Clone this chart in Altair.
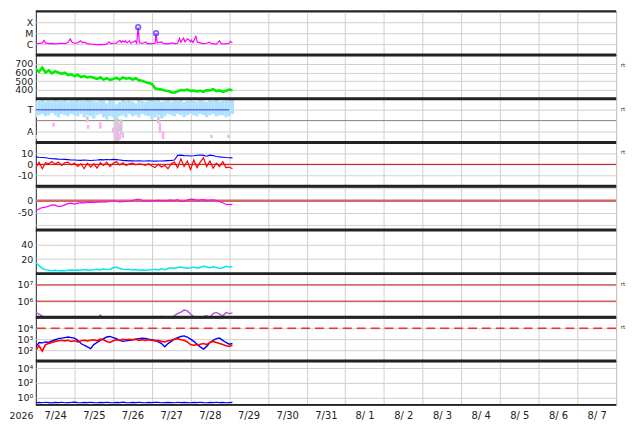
import altair as alt
import pandas as pd

FONT = "DejaVu Sans"
TXT = "#222222"
GRID = "#d0d0d0"
BORDER = "#222222"
W = 584
H = 44

# ---------------- data ----------------
HOURS = list(range(0, 124, 2))  # hours since 2026-07-24 00:00 (2 h steps)

DAY_LABELS = ["7/24", "7/25", "7/26", "7/27", "7/28", "7/29", "7/30", "7/31",
              "8/ 1", "8/ 2", "8/ 3", "8/ 4", "8/ 5", "8/ 6", "8/ 7"]
YEAR_LABEL = "2026"
SIDE_LABEL = "rt"

# Panel 1: X-ray flux (hour, W/m2)
XRAY_POINTS = [
    (0, 1.1e-6), (2, 1.15e-6), (4, 1.3e-6), (5, 2.2e-6), (6, 1.3e-6), (8, 1.1e-6),
    (10, 1.15e-6), (12, 1.05e-6), (14, 1.1e-6), (16, 1.2e-6), (18, 1.1e-6), (20, 1.4e-6),
    (21.4, 3.0e-6), (22.5, 1.5e-6), (24, 1.2e-6), (26, 1.3e-6), (27.9, 2.0e-6), (29, 1.3e-6),
    (30, 1.5e-6), (32, 1.1e-6), (34, 1.0e-6), (36, 0.95e-6), (38, 0.9e-6), (40, 0.95e-6),
    (42, 0.9e-6), (44, 1.0e-6), (45.4, 1.6e-6), (46.5, 1.1e-6), (48, 1.2e-6), (50, 1.25e-6),
    (52.2, 2.2e-6), (53, 1.4e-6), (54, 2.0e-6), (55, 1.5e-6), (55.5, 2.0e-6), (56.5, 1.3e-6),
    (58, 2.0e-6), (59, 1.2e-6), (61.7, 2.0e-6), (62.6, 1.2e-6), (63.5, 3.5e-5), (64.3, 1.3e-6),
    (66, 1.15e-6), (68.2, 1.6e-6), (69, 1.1e-6), (72, 1.1e-6), (74, 1.2e-6), (74.6, 1.0e-5),
    (75.3, 1.3e-6), (78.1, 1.6e-6), (79, 1.15e-6), (82, 1.05e-6), (84.9, 1.3e-6), (86, 1.1e-6),
    (88, 1.2e-6), (89.2, 3.3e-6), (90, 1.5e-6), (91.7, 3.6e-6), (92.5, 1.6e-6), (94.1, 3.0e-6),
    (95.4, 2.2e-6), (96, 1.6e-6), (96.6, 2.3e-6), (97.5, 1.4e-6), (99.3, 5.0e-6), (100.2, 1.5e-6),
    (102, 1.3e-6), (104, 1.1e-6), (106, 1.2e-6), (107.7, 1.5e-6), (109, 1.1e-6), (112, 1.0e-6),
    (113.9, 2.0e-6), (115, 1.1e-6), (118, 1.05e-6), (120, 1.2e-6), (120.7, 1.8e-6), (122, 1.3e-6),
]
FLARE_H = [63.5, 74.6]
FLARE_V = [3.5e-5, 1.0e-5]
XRAY_TICKS = [1e-6, 1e-5, 1e-4]
XRAY_LABELS = ["C", "M", "X"]

# Panel 2: solar wind speed (km/s)
SPEED = [640, 610, 655, 600, 625, 590,
         615, 600, 585, 598, 570, 580,
         560, 575, 548, 560, 545, 552,
         540, 528, 545, 520, 535, 515,
         525, 540, 520, 545, 530, 538,
         520, 535, 510, 505, 490, 480,
         470, 420, 410, 405, 395, 390,
         375, 370, 385, 400, 395, 405,
         390, 395, 385, 392, 380, 398,
         395, 410, 388, 395, 380, 392,
         405, 398]
SPEED_TICKS = [400, 500, 600, 700]

# Panel 3: IMF sector (T = +1, A = -1)
TB_HI = [1.85, 1.80, 1.90, 1.75, 1.85, 1.80, 1.90, 1.85, 1.80, 1.88, 1.75, 1.85,
         1.80, 1.90, 1.85, 1.80, 1.90, 1.85, 1.80, 1.75, 1.90, 1.85, 1.60, 1.90,
         1.85, 1.50, 1.70, 1.90, 1.80, 1.85, 1.75, 1.60, 1.90, 1.80, 1.70, 1.85,
         1.90, 1.80, 1.85, 1.70, 1.80, 1.90, 1.75, 1.85, 1.80, 1.90, 1.70, 1.80,
         1.85, 1.80, 1.75, 1.90, 1.80, 1.70, 1.85, 1.80, 1.90, 1.75, 1.80, 1.85,
         1.90, 1.95]
TB_LO = [0.30, 0.50, 0.60, 0.40, 0.50, 0.70, 0.50, 0.30, 0.60, 0.50, 0.40, 0.60,
         0.50, 0.40, 0.60, 0.30, 0.50, 0.40, 0.20, 0.50, 0.60, 0.30, 0.10, 0.40,
         0.30, 0.20, 0.40, 0.50, 0.30, 0.60, 0.40, 0.50, 0.30, 0.60, 0.50, 0.40,
         0.10, 0.30, 0.50, 0.20, 0.40, 0.60, 0.50, 0.40, 0.60, 0.50, 0.30, 0.50,
         0.60, 0.50, 0.40, 0.60, 0.50, 0.30, 0.50, 0.60, 0.40, 0.50, 0.50, 0.30,
         0.40, 0.60]
PINK_H = [0, 11, 32.5, 40, 48, 50, 51.7, 52, 54, 77, 79]
PINK_LO = [-1.65, -0.55, -0.75, -0.75, -1.1, -1.8, -0.95, -1.75, -1.6, -1.1, -1.7]
PINK_HI = [-1.3, -0.2, -0.4, -0.15, -0.65, -1.1, -0.25, -1.2, -1.1, -0.2, -1.0]
GRAY_H = [32, 49.5, 51, 53, 76, 109, 119.5]
GRAY_LO = [-0.15, -2.0, -1.9, -1.3, -0.25, -1.6, -1.6]
GRAY_HI = [0.4, 0.4, 0.2, 0.1, 0.4, -1.3, -1.3]
T_LINE_H = [0, 120]
T_LINE_V = [1, 1]
SECTOR_TICKS = [1, -1]
SECTOR_LABELS = ["T", "A"]

# Panel 4: IMF Bt (blue) / Bz (red), nT
BT = [6.8, 6.5, 6.3, 6.0, 5.5, 5.2, 5.0, 4.8, 4.7, 4.5, 4.3, 4.0,
      3.9, 3.8, 3.6, 3.9, 3.7, 3.5, 3.8, 4.0, 4.3, 4.1, 4.4, 4.2,
      4.5, 4.3, 4.0, 3.6, 3.4, 3.2, 3.2, 3.0, 3.3, 3.1, 3.0, 3.2,
      3.0, 2.9, 3.1, 3.0, 3.2, 3.4, 3.6, 4.0, 8.2, 8.4, 8.0, 7.8,
      7.6, 7.8, 8.3, 8.5, 8.2, 7.4, 8.4, 8.0, 7.2, 6.8, 6.5, 6.2,
      6.0, 5.9]
BZ = [-3, 2, -4, 1.5, 0.5, 2.5, 0, 2, -1, 1.5, 2, -0.5,
      1, -2, 0.5, -4, 1, -2.5, 0.5, -3.5, 1.5, -1, 2, -2,
      1, 2.5, -0.5, 1.5, -1, 0.5, 1, -0.5, 0.5, 0, -1, 0.5,
      -1.5, -3, 0, -2.5, -1, -4, 0.5, 2, -3, 5, -2, 3,
      -5, 4, -3, 2, 6, -2, 3, -3.5, 1, -2, 2.5, -3,
      -2.5, -4]
IMF_TICKS = [10, 0, -10]
IMF_LABELS = ["10", "0", "-10"]

# Panel 5: Dst (nT)
DST = [-40, -34, -28, -26, -22, -17, -18, -24, -22, -17, -12, -10,
       -14, -10, -8, -9, -7, -6, -7, -5, -6, -4, -5, -3,
       0, -3, -5, -4, -3, -2, 1, 5, 7, 2, -2, -1,
       0, 1, 2, 1, 0, 2, 3, 1, 5, -3, -1, 3,
       7, 6, 3, 4, 5, 2, 3, 4, 1, -4, -8, -15,
       -16, -15]
DST_TICKS = [50, 0, -50, -100]
DST_LABELS = ["", "0", "-50", ""]

# Panel 6: cyan series
CYAN = [15, 11, 7, 5.5, 4.5, 4, 4.5, 4, 4.2, 3.8, 4.5, 5,
        4.5, 5, 4.5, 5.5, 5, 4.5, 5.5, 6, 5, 6.5, 5.5, 6,
        8, 9, 7, 6, 5.5, 6, 5, 5.5, 4.5, 5, 4.5, 5,
        5.5, 6, 5, 6.5, 5.5, 7, 8, 7, 8.5, 9, 8, 7.5,
        8, 9, 7.5, 8.5, 10, 9, 8, 9.5, 8.5, 7, 8, 10,
        9, 9.5]
CYAN_TICKS = [20, 40]

# Panel 7: electron flux (purple)
PURPLE = [2.0e5, 1.6e5, 1.2e5, 7e4, 5e4, 4e4, 4.5e4, 5e4, 4e4, 3.5e4,
          4e4, 5e4, 4.5e4, 4e4, 5e4, 5.5e4, 4.5e4, 5e4, 6e4, 8e4,
          1.4e5, 8e4, 5e4, 4.5e4, 4e4, 5e4, 4.5e4, 4e4, 3.5e4, 4e4,
          4.5e4, 5e4, 4e4, 4.5e4, 5e4, 5.5e4, 6e4, 5.5e4, 9e4, 1.15e5,
          9e4, 6e4, 9e4, 1.3e5, 1.7e5, 2.1e5, 2.8e5, 2.5e5, 1.6e5, 1.1e5,
          8e4, 9e4, 1.1e5, 1.25e5, 1.0e5, 1.7e5, 2.0e5, 1.6e5, 1.2e5, 2.0e5,
          1.7e5, 1.9e5]
E_LINES = [1e6, 1e7]
E_TICKS = [1e6, 1e7]
E_LABELS = ["10⁶", "10⁷"]

# Panel 8: blue / red flux
BLUE8 = [200, 500, 460, 560, 500, 710, 890, 1120, 1260, 1410,
         1580, 1410, 1260, 790, 400, 280, 200, 135, 320, 500,
         790, 1120, 1580, 1780, 1410, 1120, 790, 630, 710, 790,
         890, 1000, 1120, 1260, 1200, 1000, 890, 790, 560, 400,
         200, 400, 630, 1000, 1410, 1780, 2000, 1580, 1000, 630,
         350, 200, 125, 220, 500, 790, 1120, 1260, 790, 500,
         350, 400]
RED8 = [100, 250, 80, 320, 400, 500, 630, 710, 790, 710,
        790, 630, 710, 560, 710, 790, 710, 790, 890, 710,
        1000, 890, 630, 500, 710, 890, 790, 1000, 890, 1000,
        890, 1000, 790, 890, 790, 890, 790, 710, 790, 630,
        560, 710, 790, 1000, 1120, 890, 790, 560, 320, 280,
        320, 350, 400, 320, 500, 630, 500, 400, 320, 250,
        220, 280]
P8_LINE = [1e4]
P8_TICKS = [1e2, 1e3, 1e4]
P8_LABELS = ["10²", "10³", "10⁴"]

# Panel 9: blue flux
BLUE9 = [0.2, 0.21, 0.19, 0.22, 0.2, 0.18, 0.21, 0.2, 0.22, 0.19, 0.2, 0.21,
         0.23, 0.2, 0.19, 0.21, 0.2, 0.22, 0.2, 0.19, 0.21, 0.2, 0.22, 0.2,
         0.19, 0.21, 0.2, 0.23, 0.2, 0.19, 0.21, 0.2, 0.22, 0.2, 0.19, 0.21,
         0.2, 0.22, 0.21, 0.19, 0.2, 0.21, 0.2, 0.19, 0.22, 0.2, 0.21, 0.2,
         0.19, 0.21, 0.2, 0.22, 0.2, 0.19, 0.21, 0.2, 0.22, 0.2, 0.21, 0.19,
         0.2, 0.21]
P9_TICKS = [1, 1e2, 1e4]
P9_LABELS = ["10⁰", "10²", "10⁴"]


# ---------------- helpers ----------------
def series(values, hours=HOURS):
    n = min(len(values), len(hours))
    return pd.DataFrame({"d": [h / 24 for h in hours[:n]], "v": values[:n]})


def ranges(hours, lo, hi):
    n = min(len(hours), len(lo), len(hi))
    return pd.DataFrame({"d": [h / 24 for h in hours[:n]], "v": lo[:n], "v2": hi[:n]})


def lab_expr(vals, labs):
    parts = []
    for v, l in zip(vals, labs):
        tol = abs(v) * 1e-3 if v != 0 else 1e-9
        parts.append(f"abs(datum.value - ({v!r})) < {tol!r} ? '{l}'")
    return " : ".join(parts) + " : ''"


XEXPR = "[" + ",".join(f"'{s}'" for s in DAY_LABELS) + "][round(datum.value) - 1]"


def X(labels=False):
    return alt.X(
        "d:Q",
        scale=alt.Scale(domain=[0, 15], nice=False, zero=False),
        axis=alt.Axis(values=list(range(1, 16)), grid=True, gridColor=GRID, gridWidth=1,
                      labels=labels, labelExpr=XEXPR, labelOffset=-19.5, labelFlush=False,
                      labelOverlap=False, labelFontSize=10, labelFont=FONT, labelColor=TXT,
                      labelPadding=6, ticks=False, tickSize=0, domain=False, title=None),
    )


def Y(domain, vals, labs, log=False):
    if log:
        sc = alt.Scale(type="log", domain=domain, nice=False)
    else:
        sc = alt.Scale(domain=domain, nice=False, zero=False)
    ax = alt.Axis(values=vals, labelExpr=lab_expr(vals, labs), grid=True, gridColor=GRID,
                  gridWidth=1, labelOverlap=False, labelFontSize=9.5, labelFont=FONT,
                  labelColor=TXT, labelPadding=3, ticks=False, tickSize=0, domain=False,
                  title=None)
    return alt.Y("v:Q", scale=sc, axis=ax)


ONE = pd.DataFrame({"k": [0]})


def panel(layers, sep_width=3.0, rt=False, extra=()):
    parts = list(layers)
    parts.append(alt.Chart(ONE).mark_rule(color=BORDER, strokeWidth=sep_width)
                 .encode(x=alt.value(0), x2=alt.value(W), y=alt.value(0)))
    if rt:
        parts.append(alt.Chart(ONE).mark_text(text=SIDE_LABEL, fontSize=5.5, font=FONT,
                                              color="#333333", align="center", baseline="middle")
                     .encode(x=alt.value(W + 7), y=alt.value(10)))
    parts.extend(extra)
    return alt.layer(*parts).properties(width=W, height=H)


def line(df, xe, ye, color, width=1.0, **kw):
    return alt.Chart(df).mark_line(color=color, strokeWidth=width, clip=True, **kw).encode(x=xe, y=ye)


def hrule(vals, ye, color, width=1.0, **kw):
    return alt.Chart(pd.DataFrame({"v": vals})).mark_rule(color=color, strokeWidth=width, **kw).encode(y=ye)


def vrange(df, xe, ye, color, width):
    return alt.Chart(df).mark_rule(color=color, strokeWidth=width, clip=True).encode(
        x=xe, y=ye, y2=alt.Y2("v2:Q"))


xe = X(False)

# Panel 1
y1 = Y([1e-7, 1e-3], XRAY_TICKS, XRAY_LABELS, log=True)
xr_df = pd.DataFrame({"d": [p[0] / 24 for p in XRAY_POINTS], "v": [p[1] for p in XRAY_POINTS]})
p1 = panel([
    line(xr_df, xe, y1, "#ff00ff", 1.2),
    alt.Chart(pd.DataFrame({"d": [h / 24 for h in FLARE_H], "v": FLARE_V}))
    .mark_point(shape="circle", size=22, filled=False, color="#2f2fff", strokeWidth=1.7)
    .encode(x=xe, y=y1),
], sep_width=2.0)

# Panel 2
y2 = Y([300, 800], SPEED_TICKS, [str(v) for v in SPEED_TICKS])
p2 = panel([line(series(SPEED), xe, y2, "#00ee00", 2.6)], rt=True)

# Panel 3
y3 = Y([-2, 2], SECTOR_TICKS, SECTOR_LABELS)
p3 = panel([
    hrule([0], y3, "#808080", 1.0),
    vrange(ranges(GRAY_H, GRAY_LO, GRAY_HI), xe, y3, "#cccccc", 2.5),
    vrange(ranges(HOURS, TB_LO, TB_HI), xe, y3, "#aee0ff", 3.3),
    vrange(ranges(PINK_H, PINK_LO, PINK_HI), xe, y3, "#f7b0f7", 2.5),
    line(series(T_LINE_V, T_LINE_H), xe, y3, "#5b6cf0", 1.5),
], rt=True)

# Panel 4
y4 = Y([-20, 20], IMF_TICKS, IMF_LABELS)
p4 = panel([
    hrule([0], y4, "#cc0000", 1.0),
    line(series(BT), xe, y4, "#0000ff", 1.1),
    line(series(BZ), xe, y4, "#ff0000", 1.2),
], rt=True)

# Panel 5
y5 = Y([-120, 60], DST_TICKS, DST_LABELS)
p5 = panel([
    hrule([0], y5, "#cc6a6a", 2.6),
    line(series(DST), xe, y5, "#ff00ff", 1.2),
])

# Panel 6
y6 = Y([0, 60], CYAN_TICKS, [str(v) for v in CYAN_TICKS])
p6 = panel([line(series(CYAN), xe, y6, "#00e8f0", 1.5)])

# Panel 7
y7 = Y([1e5, 5e7], E_TICKS, E_LABELS, log=True)
p7 = panel([
    hrule(E_LINES, y7, "#cc1111", 1.0),
    line(series(PURPLE), xe, y7, "#b04ee0", 1.4),
], rt=True)

# Panel 8
y8 = Y([10, 1e5], P8_TICKS, P8_LABELS, log=True)
p8 = panel([
    hrule(P8_LINE, y8, "#ee3333", 1.5, strokeDash=[9, 5]),
    line(series(BLUE8), xe, y8, "#0000ff", 1.4),
    line(series(RED8), xe, y8, "#ff0000", 1.6),
], rt=True)

# Panel 9 (with date labels)
xe9 = X(True)
y9 = Y([0.1, 1e5], P9_TICKS, P9_LABELS, log=True)
p9 = panel([
    line(series(BLUE9), xe9, y9, "#0000ff", 1.2),
], extra=(
    alt.Chart(ONE).mark_rule(color=BORDER, strokeWidth=1.5)
    .encode(x=alt.value(0), x2=alt.value(W), y=alt.value(H)),
    alt.Chart(ONE).mark_text(text=YEAR_LABEL, fontSize=9.5, font=FONT, color=TXT,
                             align="center", baseline="middle")
    .encode(x=alt.value(-14.5), y=alt.value(H + 11)),
))

chart = alt.vconcat(p1, p2, p3, p4, p5, p6, p7, p8, p9, spacing=0, bounds="flush").properties(
    padding={"left": 0, "top": 0, "right": 0, "bottom": 0}
).configure_view(stroke=BORDER, strokeWidth=1)

chart.save("out.html", embed_options={"renderer": "svg", "actions": False})
